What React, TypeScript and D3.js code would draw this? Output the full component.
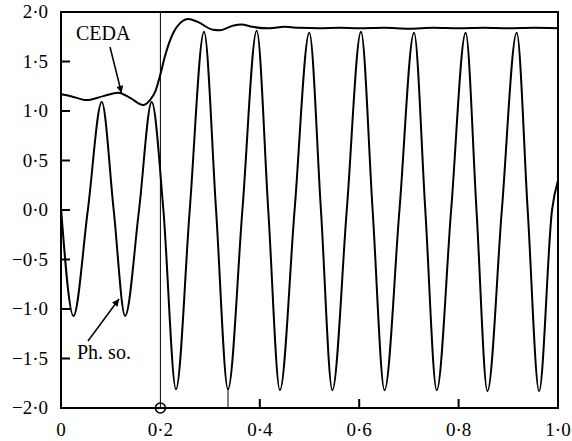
import React from "react";
import * as d3 from "d3";

// Phase-source signal: [time, value] (extrema and zero crossings)
const phaseSource: [number, number][] = [
  [0, 0.02], [0.025, -1.07], [0.054, 0], [0.082, 1.09], [0.106, 0], [0.129, -1.07],
  [0.157, 0], [0.1825, 1.09], [0.206, 0], [0.2314, -1.81], [0.259, 0], [0.2878, 1.8],
  [0.312, 0], [0.336, -1.81], [0.365, 0], [0.3938, 1.81], [0.417, 0], [0.4405, -1.82],
  [0.47, 0], [0.4996, 1.79], [0.523, 0], [0.546, -1.82], [0.575, 0], [0.6036, 1.8],
  [0.627, 0], [0.651, -1.82], [0.681, 0], [0.7103, 1.79], [0.733, 0], [0.756, -1.82],
  [0.785, 0], [0.8142, 1.79], [0.836, 0], [0.858, -1.83], [0.887, 0], [0.9169, 1.79],
  [0.939, 0], [0.962, -1.83], [0.988, 0], [1.0, 0.3],
];

// CEDA output: [time, value]
const ceda: [number, number][] = [
  [0, 1.17], [0.02, 1.15], [0.052, 1.11], [0.085, 1.15], [0.115, 1.185], [0.14, 1.13],
  [0.165, 1.06], [0.179, 1.11], [0.19, 1.2], [0.2, 1.37], [0.209, 1.55], [0.226, 1.79],
  [0.24, 1.89], [0.256, 1.93], [0.275, 1.9], [0.306, 1.82], [0.32, 1.815], [0.345, 1.86],
  [0.363, 1.875], [0.385, 1.85], [0.42, 1.835], [0.45, 1.85], [0.48, 1.84], [0.52, 1.835],
  [0.56, 1.84], [0.6, 1.835], [0.65, 1.84], [0.7, 1.83], [0.75, 1.84], [0.8, 1.835],
  [0.85, 1.84], [0.9, 1.835], [0.95, 1.84], [1.0, 1.835],
];

const xTicks = [0, 0.2, 0.4, 0.6, 0.8, 1.0];
const yTicks = [-2, -1.5, -1, -0.5, 0, 0.5, 1, 1.5, 2];
const innerXTicks = [0.4, 0.6, 0.8];
const markerTime = 0.2;
const troughMarker: [number, number] = [0.336, -1.81];

const W = 572;
const H = 441;
const fmt = (v: number) => d3.format(".1f")(v).replace(".", "\u00b7").replace("-", "\u2212");

export default function App() {
  const x = d3.scaleLinear().domain([0, 1]).range([61, 558]);
  const y = d3.scaleLinear().domain([-2, 2]).range([408, 12]);
  const line = d3
    .line<[number, number]>()
    .x((d) => x(d[0]))
    .y((d) => y(d[1]))
    .curve(d3.curveMonotoneX);
  const font = "'Liberation Serif', 'Times New Roman', serif";

  return (
    <svg
      width={W}
      height={H}
      style={{ position: "absolute", left: 0, top: 0, background: "#fff" }}
      fontFamily={font}
    >
      <defs>
        <marker id="ah" viewBox="0 0 10 10" refX="10" refY="5" markerWidth="9" markerHeight="7" orient="auto" markerUnits="userSpaceOnUse">
          <path d="M0,0 L10,5 L0,10 z" fill="#000" />
        </marker>
      </defs>
      {/* vertical marker lines */}
      <line x1={x(markerTime)} x2={x(markerTime)} y1={y(-2)} y2={y(2)} stroke="#000" strokeWidth={1} />
      <line x1={x(troughMarker[0])} x2={x(troughMarker[0])} y1={y(-2)} y2={y(troughMarker[1])} stroke="#000" strokeWidth={1} />
      {/* curves */}
      <path d={line(ceda) || ""} fill="none" stroke="#000" strokeWidth={2} />
      <path d={line(phaseSource) || ""} fill="none" stroke="#000" strokeWidth={2} />
      {/* frame */}
      <rect x={x(0)} y={y(2)} width={x(1) - x(0)} height={y(-2) - y(2)} fill="none" stroke="#000" strokeWidth={2} />
      {/* y ticks */}
      {yTicks.map((t) => (
        <g key={"y" + t}>
          <line x1={x(0)} x2={x(0) + 9} y1={y(t)} y2={y(t)} stroke="#000" strokeWidth={2} />
          <text x={48} y={y(t)} dy="0.34em" textAnchor="end" fontSize={19}>
            {fmt(t)}
          </text>
        </g>
      ))}
      {/* x ticks */}
      {innerXTicks.map((t) => (
        <line key={"xt" + t} x1={x(t)} x2={x(t)} y1={y(-2)} y2={y(-2) - 9} stroke="#000" strokeWidth={2} />
      ))}
      {xTicks.map((t) => (
        <text key={"x" + t} x={x(t)} y={436} textAnchor="middle" fontSize={19}>
          {t === 0 ? "0" : fmt(t)}
        </text>
      ))}
      {/* circle marker */}
      <circle cx={x(markerTime)} cy={y(-2)} r={5} fill="none" stroke="#000" strokeWidth={1.6} />
      {/* annotations */}
      <text x={76} y={40} fontSize={20}>CEDA</text>
      <line x1={110} y1={47} x2={121.5} y2={93} stroke="#000" strokeWidth={1.5} markerEnd="url(#ah)" />
      <text x={77} y={359} fontSize={20}>Ph. so.</text>
      <line x1={88} y1={341} x2={119} y2={299} stroke="#000" strokeWidth={1.5} markerEnd="url(#ah)" />
    </svg>
  );
}
